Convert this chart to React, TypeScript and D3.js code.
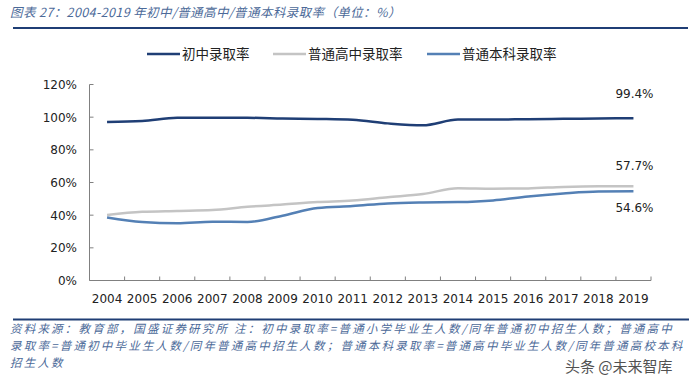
import React from "react";
import * as d3 from "d3";

const years = ["2004","2005","2006","2007","2008","2009","2010","2011","2012","2013","2014","2015","2016","2017","2018","2019"];
const juniorRate = [97.0, 97.6, 99.6, 99.6, 99.6, 99.2, 98.9, 98.4, 96.2, 95.0, 98.5, 98.5, 98.8, 99.0, 99.2, 99.4];
const seniorRate = [40.1, 42.1, 42.6, 43.1, 45.1, 46.5, 48.0, 49.0, 51.0, 52.9, 56.5, 56.2, 56.4, 57.3, 57.7, 57.7];
const collegeRate = [38.6, 35.8, 35.0, 36.0, 35.8, 39.7, 44.4, 45.6, 47.2, 47.8, 48.0, 49.0, 51.5, 53.3, 54.5, 54.6];
const yTicks = [0, 20, 40, 60, 80, 100, 120];
const seriesNames = ["初中录取率", "普通高中录取率", "普通本科录取率"];
const colors = ["#1F3E75", "#C4C4C4", "#5480B5"];

const title = "图表 27：2004-2019 年初中/普通高中/普通本科录取率（单位：%）";
const footLines = [
  "资料来源：教育部，国盛证券研究所  注：初中录取率=普通小学毕业生人数/同年普通初中招生人数；普通高中",
  "录取率=普通初中毕业生人数/同年普通高中招生人数；普通本科录取率=普通高中毕业生人数/同年普通高校本科",
  "招生人数",
];

export default function App() {
  const W = 700, H = 382;
  const left = 89.5, right = 651, top = 84.5, bottom = 280.5;
  const x = d3.scaleBand<string>().domain(years).range([left, right]);
  const y = d3.scaleLinear().domain([0, 120]).range([bottom, top]);
  const cx = (d: string) => (x(d) as number) + x.bandwidth() / 2;
  const line = d3.line<number>().x((_, i) => cx(years[i])).y((v) => y(v)).curve(d3.curveMonotoneX);
  const data = [juniorRate, seniorRate, collegeRate];
  const font = "'DejaVu Sans', Verdana, sans-serif";
  const cjk = "'Noto Sans CJK SC', 'Noto Sans', sans-serif";
  const legendX = [147, 273, 427];
  const last = years[years.length - 1];
  const endLabels = [
    { v: juniorRate[15], dy: -20 },
    { v: seniorRate[15], dy: -16 },
    { v: collegeRate[15], dy: 21 },
  ];
  return (
    <svg width={W} height={H} style={{ position: "absolute", left: 0, top: 0, background: "#fff" }}>
      <text x={10} y={17} fontFamily={cjk} fontSize={12.5} fontStyle="italic" letterSpacing={0.4} fill="#4C6A99">{title}</text>
      <line x1={13} x2={688} y1={28} y2={28} stroke="#1F3E75" strokeWidth={2} />
      {seriesNames.map((n, i) => (
        <g key={n}>
          <line x1={legendX[i]} x2={legendX[i] + 33} y1={54} y2={54} stroke={colors[i]} strokeWidth={2.5} />
          <text x={legendX[i] + 35} y={59} fontFamily={cjk} fontSize={13.5} fill="#222">{n}</text>
        </g>
      ))}
      <line x1={left} x2={left} y1={top} y2={bottom} stroke="#808080" strokeWidth={1} />
      <line x1={left} x2={right} y1={bottom} y2={bottom} stroke="#808080" strokeWidth={1} />
      {yTicks.map((t) => (
        <g key={t}>
          <line x1={left} x2={left + 4} y1={y(t)} y2={y(t)} stroke="#808080" />
          <text x={77} y={y(t) + 4.5} textAnchor="end" fontFamily={font} fontSize={12} fill="#222">{t}%</text>
        </g>
      ))}
      {years.map((yr) => (
        <g key={yr}>
          <line x1={(x(yr) as number) + x.bandwidth()} x2={(x(yr) as number) + x.bandwidth()} y1={bottom} y2={bottom - 4} stroke="#808080" />
          <text x={cx(yr)} y={303} textAnchor="middle" fontFamily={font} fontSize={12} fill="#222">{yr}</text>
        </g>
      ))}
      {data.map((s, i) => (
        <path key={i} d={line(s) as string} fill="none" stroke={colors[i]} strokeWidth={2.5} />
      ))}
      {endLabels.map((l, i) => (
        <text key={i} x={cx(last) + 1} y={y(l.v) + l.dy} textAnchor="middle" fontFamily={font} fontSize={12} fill="#222">{l.v.toFixed(1)}%</text>
      ))}
      <line x1={13} x2={689} y1={319.5} y2={319.5} stroke="#1F3E75" strokeWidth={2} />
      {footLines.map((t, i) => (
        <text key={i} x={10} y={333 + i * 17} fontFamily={cjk} fontSize={11.5} fontStyle="italic" letterSpacing={2.2} fill="#4C6A99">{t}</text>
      ))}
      <text x={565} y={372} fontFamily={cjk} fontSize={15} fill="#333" opacity={0.85}>头条 @未来智库</text>
    </svg>
  );
}
